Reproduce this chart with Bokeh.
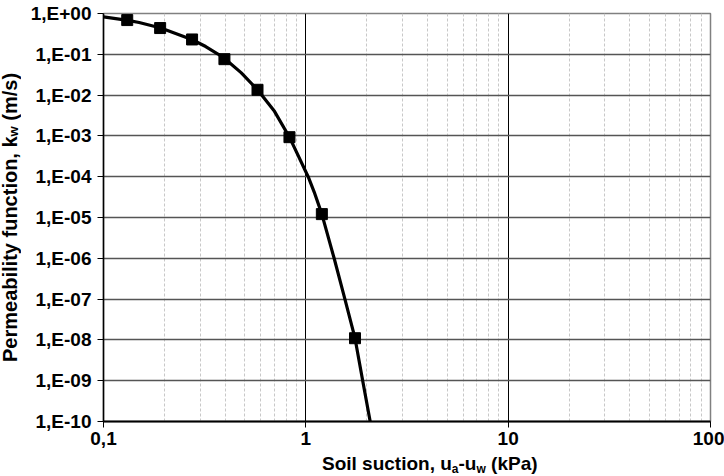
from bokeh.plotting import figure
from bokeh.models import FixedTicker, CustomJSTickFormatter, Div
from bokeh.layouts import column, row
from bokeh.embed import file_html
from bokeh.resources import INLINE

# ---- data ----
curve_suction = [0.10, 0.132, 0.15, 0.192, 0.273, 0.32, 0.366, 0.398, 0.48, 0.577,
                 0.70, 0.83, 1.027, 1.10, 1.20, 1.38, 1.56, 1.75, 1.91, 2.08]
curve_kw = [0.83, 0.68, 0.60, 0.44, 0.23, 0.155, 0.103, 0.078, 0.035, 0.0135,
            4.0e-3, 9.3e-4, 1.0e-4, 4.2e-5, 1.21e-5, 1.0e-6, 1.0e-7, 1.1e-8, 1.0e-9, 1.0e-10]

marker_suction = [0.131, 0.1905, 0.274, 0.396, 0.577, 0.83, 1.20, 1.75]
marker_kw = [0.69, 0.44, 0.231, 0.076, 0.0135, 9.3e-4, 1.21e-5, 1.1e-8]

x_ticks = [0.1, 1, 10, 100]
x_tick_labels = ["0,1", "1", "10", "100"]
y_ticks = [1e-10, 1e-9, 1e-8, 1e-7, 1e-6, 1e-5, 1e-4, 1e-3, 1e-2, 1e-1, 1e0]
y_tick_labels = ["1,E-10", "1,E-09", "1,E-08", "1,E-07", "1,E-06", "1,E-05",
                 "1,E-04", "1,E-03", "1,E-02", "1,E-01", "1,E+00"]

x_title_html = "Soil suction, u<sub>a</sub>-u<sub>w</sub> (kPa)"
y_title_html = "Permeability function, k<sub>w</sub> (m/s)"

FONT = "Liberation Sans"

p = figure(width=700, height=454, x_axis_type="log", y_axis_type="log",
           x_range=(0.1, 100), y_range=(1e-10, 1), output_backend="svg",
           toolbar_location=None, min_border_left=79, min_border_right=14,
           min_border_top=13, min_border_bottom=33, margin=0)

minor = []
for d in [0.1, 1, 10]:
    for m in range(2, 10):
        minor.append(d * m)

p.xaxis.ticker = FixedTicker(ticks=x_ticks, minor_ticks=minor)
p.yaxis.ticker = FixedTicker(ticks=y_ticks, minor_ticks=[])

fmt_code = """
let best = 0;
const lt = Math.log10(tick);
for (let i = 0; i < tvals.length; i++) {
  if (Math.abs(Math.log10(tvals[i]) - lt) < Math.abs(Math.log10(tvals[best]) - lt)) best = i;
}
return tlabels[best];
"""
p.xaxis.formatter = CustomJSTickFormatter(args=dict(tvals=x_ticks, tlabels=x_tick_labels), code=fmt_code)
p.yaxis.formatter = CustomJSTickFormatter(args=dict(tvals=y_ticks, tlabels=y_tick_labels), code=fmt_code)

for ax in (p.xaxis, p.yaxis):
    ax.major_label_text_font = FONT
    ax.major_label_text_font_style = "bold"
    ax.major_label_text_font_size = "19px"
    ax.major_label_text_color = "#000000"
    ax.major_tick_out = 6
    ax.major_tick_in = 0
    ax.minor_tick_out = 0
    ax.minor_tick_in = 0
    ax.major_tick_line_color = "#000000"
    ax.axis_line_color = "#000000"
p.xaxis.axis_line_width = 2
p.yaxis.axis_line_width = 1.5
p.xaxis.major_label_standoff = 4
p.yaxis.major_label_standoff = 6

p.xgrid.grid_line_color = "#000000"
p.xgrid.grid_line_width = 1
p.xgrid.minor_grid_line_color = "#c8c8c8"
p.xgrid.minor_grid_line_dash = "3 2"
p.xgrid.minor_grid_line_width = 1
p.ygrid.grid_line_color = "#555555"
p.ygrid.grid_line_width = 1.5

p.outline_line_color = "#808080"
p.outline_line_width = 1.5
p.background_fill_color = "#ffffff"
p.border_fill_color = "#ffffff"

p.line(curve_suction, curve_kw, line_color="#000000", line_width=3.2, line_join="round")
p.scatter(marker_suction, marker_kw, marker="square", size=11,
          fill_color="#000000", line_color="#000000")

# ---- axis titles as HTML text (real subscripts) ----
x_sub = '<sub style="font-size:12px; vertical-align:-3px; line-height:0;">'
y_sub = '<sub style="font-size:13px; vertical-align:-4px; line-height:0;">'
x_html = ('<div style="margin-left:322px; font-family:\'%s\'; font-weight:bold; '
          'font-size:19px; line-height:19px; white-space:nowrap; color:#000;">%s</div>'
          % (FONT, x_title_html.replace("<sub>", x_sub)))
y_html = ('<div style="margin-top:73px; height:289px; width:20px; writing-mode:vertical-rl; '
          'transform:rotate(180deg); text-align:start; font-family:\'%s\'; font-weight:bold; '
          'font-size:20px; line-height:20px; white-space:nowrap; color:#000;">%s</div>'
          % (FONT, y_title_html.replace("<sub>", y_sub)))

ydiv = Div(text=y_html, width=24, height=454, margin=0)
xdiv = Div(text=x_html, width=724, height=22, margin=0)

page = column(row(ydiv, p, margin=0, spacing=0), xdiv, margin=0, spacing=0)

open("out.html", "w").write(file_html(page, INLINE))
